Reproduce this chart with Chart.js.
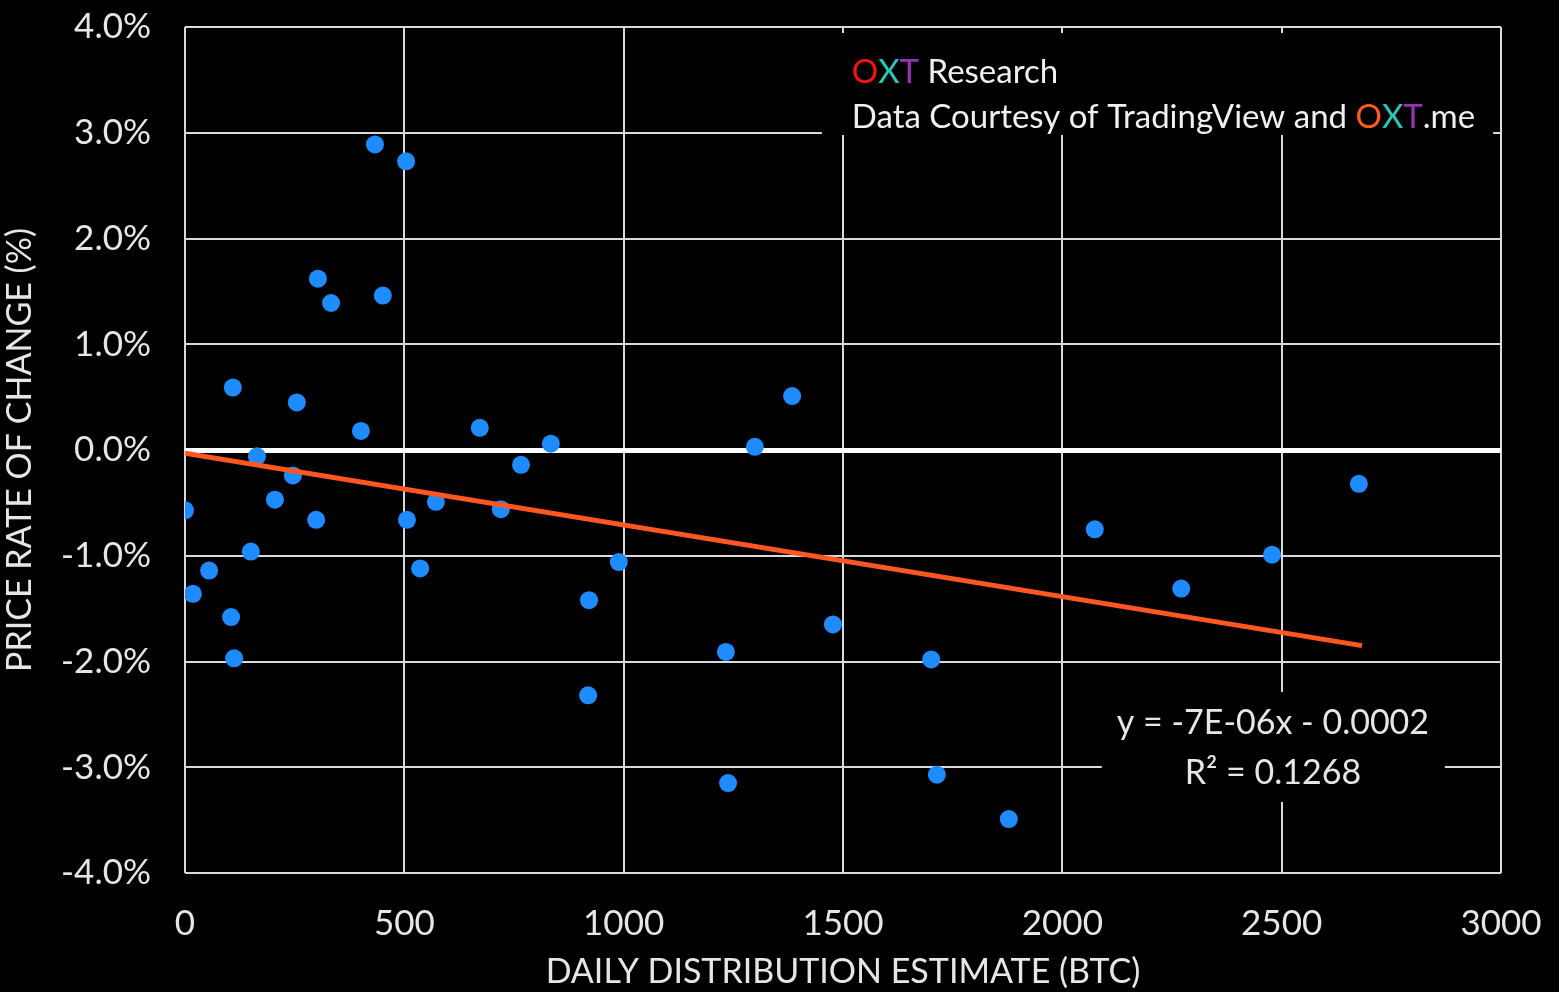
<!DOCTYPE html>
<html lang="en">
<head>
<meta charset="UTF-8">
<title>Price rate of change vs daily distribution</title>
<script src="https://cdn.jsdelivr.net/npm/chart.js"></script>
<style>
  html, body { margin: 0; padding: 0; background: #000; }
  #wrap { width: 1559px; height: 992px; }
</style>
</head>
<body>
<div id="wrap"><canvas id="chart"></canvas></div>
<script>
// daily distribution estimate (BTC)
const distribution = [0, 18, 55, 105, 109, 112, 150, 164, 205, 246, 255, 299, 303, 333, 401, 433, 451, 504, 506, 536,
  572, 672, 720, 766, 834, 919, 921, 989, 1233, 1238, 1299, 1384, 1477, 1701, 1714, 1878, 2074, 2271, 2478, 2676];
// price rate of change (%)
const priceChange = [-0.57, -1.36, -1.14, -1.58, 0.59, -1.97, -0.96, -0.06, -0.47, -0.24, 0.45, -0.66, 1.62, 1.39, 0.18, 2.89, 1.46, 2.73, -0.66, -1.12,
  -0.49, 0.21, -0.56, -0.14, 0.06, -2.32, -1.42, -1.06, -1.91, -3.15, 0.03, 0.51, -1.65, -1.98, -3.07, -3.49, -0.75, -1.31, -0.99, -0.32];
// linear trend line end points
const trendX = [0, 2683];
const trendY = [-0.03, -1.85];

const xTicks = [0, 500, 1000, 1500, 2000, 2500, 3000];
const yTicks = [-4, -3, -2, -1, 0, 1, 2, 3, 4];

const FONT = 'Lato';

const annotations = {
  id: 'annotations',
  afterDatasetsDraw(chart) {
    const { ctx, scales: { x, y } } = chart;
    const box = (x0, x1, y0, y1) => {
      ctx.fillStyle = '#000';
      ctx.fillRect(x.getPixelForValue(x0), y.getPixelForValue(y0), x.getPixelForValue(x1) - x.getPixelForValue(x0), y.getPixelForValue(y1) - y.getPixelForValue(y0));
    };
    ctx.save();
    // top right credit box
    box(1452, 2982, 3.943, 2.979);
    ctx.font = '33px ' + FONT;
    ctx.textBaseline = 'middle';
    ctx.textAlign = 'left';
    const runs = (parts, px, py) => {
      let cx = px;
      parts.forEach(([t, c]) => {
        ctx.fillStyle = c;
        ctx.fillText(t, cx, py);
        cx += ctx.measureText(t).width;
      });
    };
    const left = x.getPixelForValue(1520);
    runs([['O', '#ff1010'], ['X', '#28c8b8'], ['T', '#9a32b4'], [' Research', '#f0f0f0']], left, y.getPixelForValue(3.574));
    runs([['Data Courtesy of TradingView and ', '#f0f0f0'], ['O', '#ff5a1e'], ['X', '#28c8b8'], ['T', '#9a32b4'], ['.me', '#f0f0f0']], left, y.getPixelForValue(3.149));

    // regression box
    box(2090, 2872, -2.288, -3.328);
    ctx.font = '34px ' + FONT;
    ctx.fillStyle = '#e6e6e6';
    ctx.textAlign = 'center';
    const cx = x.getPixelForValue(2480);
    ctx.fillText('y = -7E-06x - 0.0002', cx, y.getPixelForValue(-2.58));
    ctx.fillText('R\u00B2 = 0.1268', cx, y.getPixelForValue(-3.05));
    ctx.restore();
  }
};

new Chart(document.getElementById('chart'), {
  type: 'scatter',
  data: {
    datasets: [
      {
        type: 'line',
        label: 'Trend',
        data: trendX.map((v, i) => ({ x: v, y: trendY[i] })),
        borderColor: '#ff5622',
        borderWidth: 5,
        pointRadius: 0,
        fill: false,
        order: 0
      },
      {
        label: 'Days',
        data: distribution.map((v, i) => ({ x: v, y: priceChange[i] })),
        backgroundColor: '#1e8cff',
        borderWidth: 0,
        pointRadius: 9,
        order: 1
      }
    ]
  },
  options: {
    responsive: true,
    maintainAspectRatio: false,
    animation: false,
    layout: { padding: { top: 27, right: 58, left: 0, bottom: 0 } },
    plugins: {
      legend: { display: false },
      tooltip: { enabled: false }
    },
    scales: {
      x: {
        type: 'linear',
        min: 0,
        max: 3000,
        afterBuildTicks: s => { s.ticks = xTicks.map(v => ({ value: v })); },
        afterFit: s => { s.height = 119; s.paddingLeft = 0; s.paddingRight = 0; },
        grid: { color: '#d9d9d9', lineWidth: 2, drawTicks: false },
        border: { display: false },
        ticks: { color: '#e6e6e6', font: { family: FONT, size: 35 }, padding: 30, maxRotation: 0, callback: v => String(v) },
        title: { display: true, text: 'DAILY DISTRIBUTION ESTIMATE (BTC)', color: '#e6e6e6', font: { family: FONT, size: 34 }, padding: { top: 0, bottom: 0 } }
      },
      y: {
        min: -4,
        max: 4,
        afterBuildTicks: s => { s.ticks = yTicks.map(v => ({ value: v })); },
        afterFit: s => { s.width = 185; s.paddingTop = 0; s.paddingBottom = 0; },
        grid: {
          color: c => c.tick && c.tick.value === 0 ? '#ffffff' : '#d9d9d9',
          lineWidth: c => c.tick && c.tick.value === 0 ? 5 : 2,
          drawTicks: false
        },
        border: { display: false },
        ticks: { color: '#e6e6e6', font: { family: FONT, size: 35 }, padding: 34, callback: v => v.toFixed(1) + '%' },
        title: { display: true, text: 'PRICE RATE OF CHANGE (%)', color: '#e6e6e6', font: { family: FONT, size: 34 }, padding: { top: 0, bottom: 0 } }
      }
    }
  },
  plugins: [annotations]
});
</script>
</body>
</html>
